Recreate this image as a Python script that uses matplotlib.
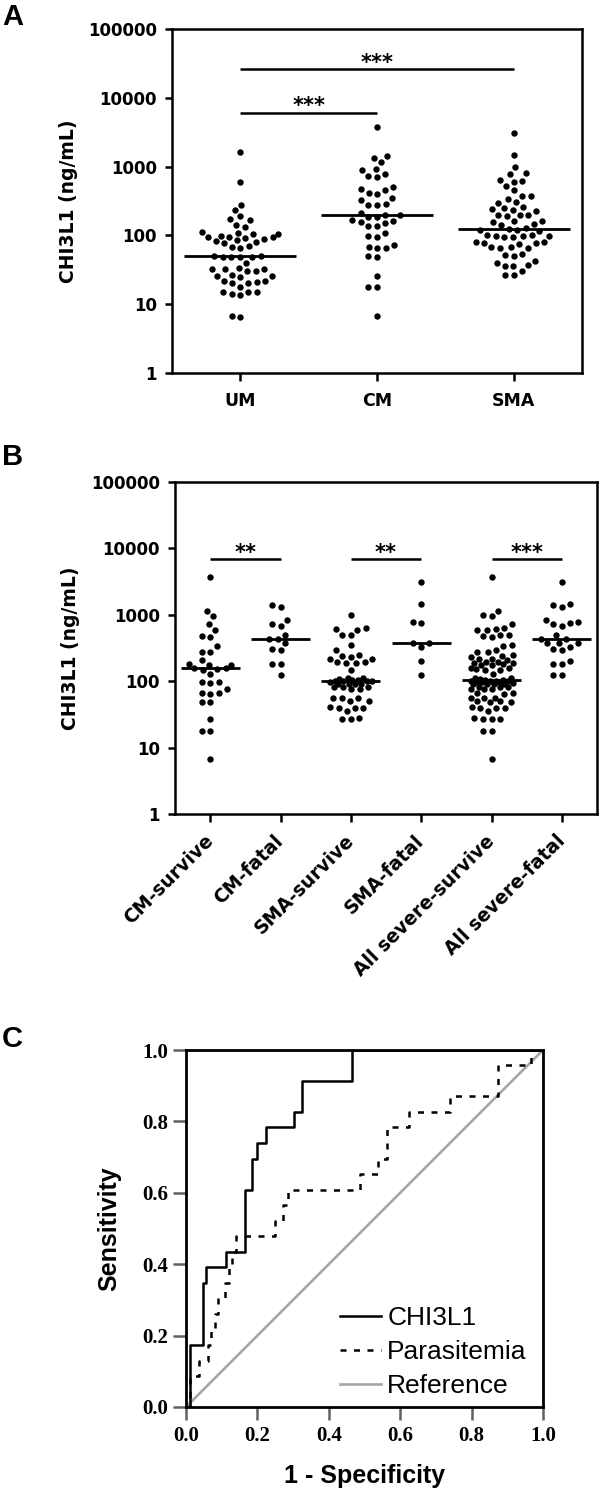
import numpy as np
import matplotlib
matplotlib.use('Agg')
import matplotlib.pyplot as plt
from matplotlib.ticker import FixedLocator, NullLocator
from matplotlib.lines import Line2D

# ---- data ----
# panel A: CHI3L1 (ng/mL) per group
groups_a = ['UM', 'CM', 'SMA']
um = [1620, 590, 280, 235, 190, 175, 165, 142, 132, 112, 108, 106, 104, 98, 96, 95, 94, 92,
      90, 86, 84, 80, 77, 70, 68, 66, 50, 50, 49, 49, 48, 48, 40, 34, 33, 33, 32, 30, 30, 27,
      26, 26, 25, 22, 22, 21, 20, 20, 18, 15, 15, 15, 14, 13.5, 6.8, 6.6]
cm = [3800, 1430, 1350, 1150, 930, 880, 780, 720, 700, 500, 480, 450, 420, 400, 350, 330, 290,
      280, 280, 215, 200, 195, 185, 185, 165, 160, 155, 150, 138, 135, 108, 98, 95, 72, 68, 66,
      65, 50, 48, 26, 18, 18, 6.8]
sma = [3100, 1480, 1000, 800, 780, 630, 620, 600, 520, 450, 380, 370, 340, 310, 300, 255, 250,
       240, 235, 230, 200, 200, 195, 190, 160, 160, 155, 145, 140, 127, 122, 120, 118, 115, 102,
       100, 99, 98, 97, 96, 94, 80, 79, 78, 77, 76, 68, 67, 66, 65, 54, 52, 51, 42, 40, 37, 36,
       36, 30, 27, 27]

# panel B: outcome groups
groups_b = ['CM-survive', 'CM-fatal', 'SMA-survive', 'SMA-fatal',
            'All severe-survive', 'All severe-fatal']
cm_survive = [3760, 1160, 945, 730, 600, 480, 470, 340, 280, 280, 205, 180, 178, 176, 158, 157,
              155, 150, 130, 97, 96, 95, 75, 67, 66, 65, 49, 48, 26.6, 17.6, 17.5, 6.7]
cm_fatal = [1400, 1320, 840, 730, 680, 500, 430, 430, 370, 305, 290, 184, 184, 124]
sma_survive = [980, 630, 620, 600, 500, 490, 350, 290, 245, 240, 235, 215, 215, 195, 195, 190,
               190, 150, 112, 110, 108, 106, 104, 101, 100, 100, 99, 98, 92, 92, 92, 92, 83, 82,
               82, 75, 75, 56, 56, 56, 50, 50, 41, 40, 40, 39, 35, 28, 27, 27]
sma_fatal = [3100, 1460, 770, 760, 375, 370, 330, 200, 124]
all_survive = cm_survive + sma_survive
all_fatal = cm_fatal + sma_fatal

# panel C: ROC curves (1 - specificity, sensitivity)
chi_fpr = [0.0, 0.010, 0.048, 0.057, 0.113, 0.164, 0.186, 0.199, 0.225, 0.303, 0.325, 0.464, 1.0]
chi_tpr = [0.0, 0.174, 0.348, 0.391, 0.435, 0.609, 0.696, 0.739, 0.783, 0.826, 0.913, 1.0, 1.0]
para_fpr = [0.0, 0.010, 0.036, 0.062, 0.070, 0.080, 0.090, 0.110, 0.120, 0.130, 0.140, 0.250,
            0.272, 0.285, 0.488, 0.538, 0.563, 0.625, 0.740, 0.875, 0.965, 1.0]
para_tpr = [0.0, 0.087, 0.130, 0.174, 0.217, 0.261, 0.304, 0.348, 0.391, 0.435, 0.478, 0.522,
            0.565, 0.609, 0.652, 0.696, 0.783, 0.826, 0.870, 0.957, 1.0, 1.0]

# ---- figure ----
W, H = 600, 1493
fig = plt.figure(figsize=(W / 100, H / 100), dpi=100)
plt.rcParams['font.family'] = 'DejaVu Sans'


def px_axes(l, t, r, b):
    return fig.add_axes([l / W, 1 - b / H, (r - l) / W, (b - t) / H])


def swarm(vals, h_px, unit_px, lim_px, d=8.6):
    # simple beeswarm: offsets in display pixels, returned in data units
    y = np.log10(np.asarray(vals, float)) / 5.0 * h_px
    xs = np.zeros(len(y))
    placed = []
    grid = list(np.linspace(-lim_px, lim_px, 41))
    for i in np.argsort(y):
        yi = y[i]
        near = [(px, py) for px, py in placed if abs(py - yi) < d]
        cands = [0.0] + grid
        for px, py in near:
            dx = np.sqrt(d * d - (py - yi) ** 2)
            cands += [px - dx, px + dx]
        cands = [c for c in cands if abs(c) <= lim_px + 1e-9]
        cands.sort(key=abs)
        best = None
        for c in cands:
            if all((c - px) ** 2 + (yi - py) ** 2 >= d * d - 1e-6 for px, py in near):
                best = c
                break
        if best is None:
            best = max(cands, key=lambda c: min((c - px) ** 2 + (yi - py) ** 2 for px, py in near))
        xs[i] = best
        placed.append((best, yi))
    return xs / unit_px


def dot_panel(ax, data, h_px, unit_px, lim_px, half):
    for k, vals in enumerate(data):
        off = swarm(vals, h_px, unit_px, lim_px)
        ax.plot(k + off, vals, 'o', color='black', ms=4.6, mew=0, zorder=2)
        med = np.median(vals)
        ax.plot([k - half, k + half], [med, med], color='black', lw=2.0,
                solid_capstyle='butt', zorder=3)
    ax.set_yscale('log')
    ax.set_ylim(1, 1e5)
    ax.set_xlim(-0.5, len(data) - 0.5)
    ax.yaxis.set_major_locator(FixedLocator([1, 10, 100, 1000, 10000, 100000]))
    ax.yaxis.set_minor_locator(NullLocator())
    ax.set_yticks([1, 10, 100, 1000, 10000, 100000],
                  ['1', '10', '100', '1000', '10000', '100000'],
                  fontsize=12, fontweight='bold')
    ax.tick_params(axis='both', direction='out', length=5.4, width=1.8, color='black')
    ax.tick_params(axis='y', pad=5.5)
    for s in ax.spines.values():
        s.set_linewidth(1.8)
    ax.set_ylabel('CHI3L1 (ng/mL)', fontsize=13.5, fontweight='bold')


def sig(ax, x0, x1, y, stars):
    ax.plot([x0, x1], [y, y], color='black', lw=1.8, solid_capstyle='butt')
    ax.text((x0 + x1) / 2, y * 1.02, stars, ha='center', va='baseline',
            fontsize=15, fontweight='bold')


# ---- panel A ----
axA = px_axes(172, 29, 582, 373)
dot_panel(axA, [um, cm, sma], 344, 410 / 3, 38, 0.41)
axA.set_xticks(range(3), groups_a, fontsize=12.5, fontweight='bold')
axA.tick_params(axis='x', pad=8.3)
axA.yaxis.set_label_coords(-0.229, 0.5)
sig(axA, 0, 1, 6000, '***')
sig(axA, 0, 2, 26000, '***')

# ---- panel B ----
axB = px_axes(175, 482, 597, 814)
dot_panel(axB, [cm_survive, cm_fatal, sma_survive, sma_fatal, all_survive, all_fatal],
          332, 422 / 6, 21, 0.42)
axB.set_xticks(range(6), groups_b, fontsize=13.5, fontweight='bold', rotation=45,
               ha='right', va='center', rotation_mode='anchor')
axB.tick_params(axis='x', pad=12)
axB.yaxis.set_label_coords(-0.225, 0.5)
for k in (0, 2):
    sig(axB, k, k + 1, 6900, '**')
sig(axB, 4, 5, 6900, '***')

# ---- panel C ----
axC = px_axes(186, 1050, 543, 1407)
axC.plot([0, 1], [0, 1], color='#a6a6a6', lw=1.9, zorder=2)
axC.plot(para_fpr, para_tpr, drawstyle='steps-post', color='black', lw=1.8,
         dashes=(2.4, 3.0), zorder=3)
axC.plot(chi_fpr, chi_tpr, drawstyle='steps-post', color='black', lw=1.8, zorder=4)
axC.set_xlim(0, 1)
axC.set_ylim(0, 1)
ticks = [0.0, 0.2, 0.4, 0.6, 0.8, 1.0]
tick_lbls = ['%.1f' % t for t in ticks]
axC.set_xticks(ticks, tick_lbls, fontsize=15, fontweight='bold', family='Liberation Serif')
axC.set_yticks(ticks, tick_lbls, fontsize=15, fontweight='bold', family='Liberation Serif')
axC.tick_params(axis='both', direction='out', length=9.4, width=1.8, color='#606060')
axC.tick_params(axis='y', pad=3.3)
axC.tick_params(axis='x', pad=4.3)
for s in axC.spines.values():
    s.set_linewidth(2.0)
axC.set_xlabel('1 - Specificity', fontsize=18, fontweight='bold', family='Liberation Sans')
axC.set_ylabel('Sensitivity', fontsize=18, fontweight='bold', family='Liberation Sans')
axC.xaxis.set_label_coords(0.5, -0.16)
axC.yaxis.set_label_coords(-0.18, 0.5)
handles = [Line2D([], [], color='black', lw=1.8),
           Line2D([], [], color='black', lw=1.8, dashes=(2.4, 3.0)),
           Line2D([], [], color='#a6a6a6', lw=1.9)]
axC.legend(handles, ['CHI3L1', 'Parasitemia', 'Reference'], loc='lower left',
           bbox_to_anchor=(0.431, 0.025), frameon=False,
           prop={'family': 'Liberation Sans', 'size': 19},
           handlelength=1.55, handletextpad=0.25, labelspacing=0.38,
           borderpad=0, borderaxespad=0)

# panel letters
for letter, top in (('A', 3), ('B', 443), ('C', 1025)):
    fig.text(2 / W, 1 - top / H, letter, ha='left', va='top', fontsize=21,
             fontweight='bold', family='Liberation Sans')

fig.savefig('out.png', dpi=100)
